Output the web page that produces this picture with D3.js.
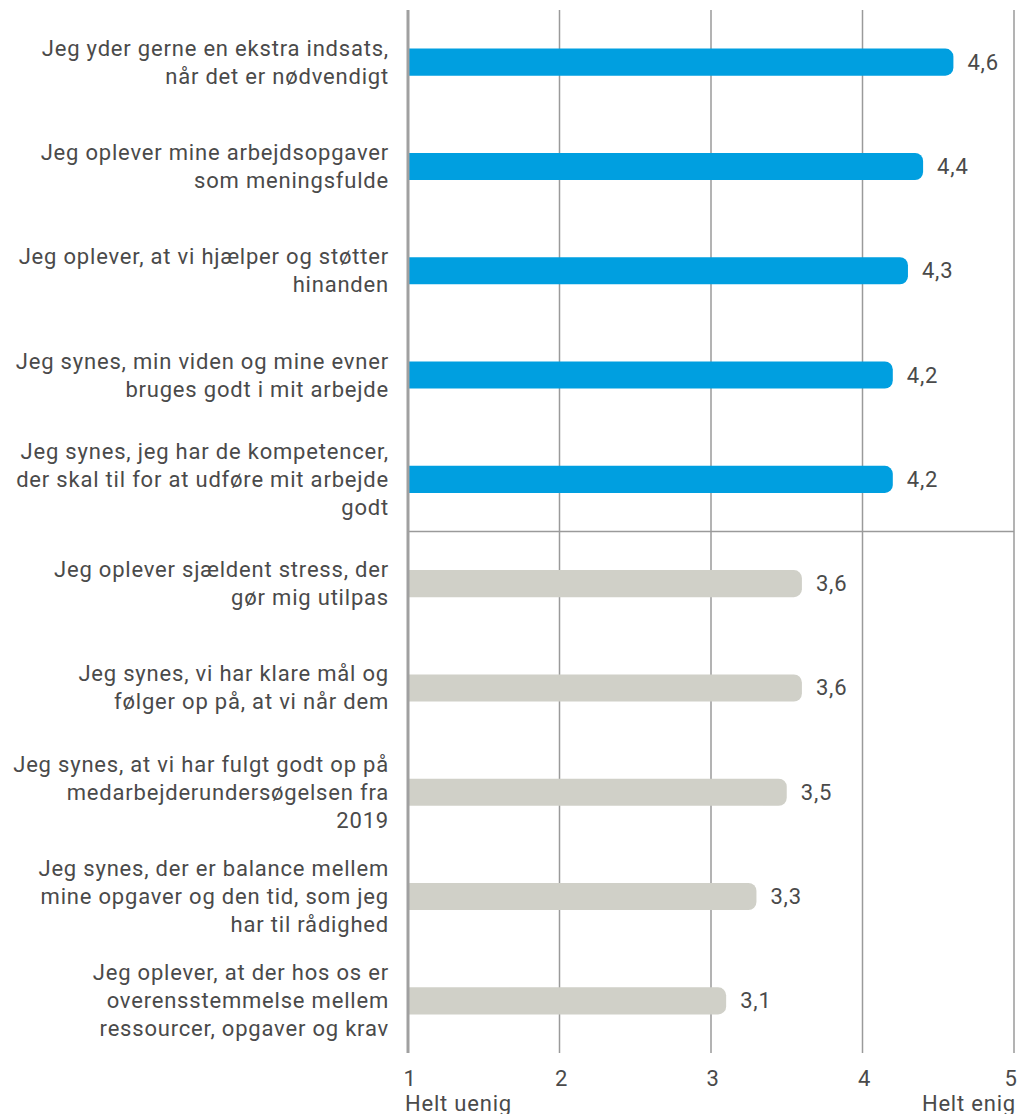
<!DOCTYPE html>
<html>
<head>
<meta charset="utf-8">
<script src="https://cdn.jsdelivr.net/npm/d3@7"></script>
<style>
  body { margin: 0; background: #fff; }
  svg { display: block; font-family: Roboto, sans-serif; }
  text { letter-spacing: 0.8px; }
</style>
</head>
<body>
<div id="chart"></div>
<script>
var labels = [
  ["Jeg yder gerne en ekstra indsats,", "når det er nødvendigt"],
  ["Jeg oplever mine arbejdsopgaver", "som meningsfulde"],
  ["Jeg oplever, at vi hjælper og støtter", "hinanden"],
  ["Jeg synes, min viden og mine evner", "bruges godt i mit arbejde"],
  ["Jeg synes, jeg har de kompetencer,", "der skal til for at udføre mit arbejde", "godt"],
  ["Jeg oplever sjældent stress, der", "gør mig utilpas"],
  ["Jeg synes, vi har klare mål og", "følger op på, at vi når dem"],
  ["Jeg synes, at vi har fulgt godt op på", "medarbejderundersøgelsen fra", "2019"],
  ["Jeg synes, der er balance mellem", "mine opgaver og den tid, som jeg", "har til rådighed"],
  ["Jeg oplever, at der hos os er", "overensstemmelse mellem", "ressourcer, opgaver og krav"]
];
var values = [4.6, 4.4, 4.3, 4.2, 4.2, 3.6, 3.6, 3.5, 3.3, 3.1];
var groups = ["top", "top", "top", "top", "top", "low", "low", "low", "low", "low"];
var ticks = [1, 2, 3, 4, 5];
var tickNotes = ["Helt uenig", "", "", "", "Helt enig"];

var width = 1020, height = 1114;
var margin = {top: 10, left: 408, right: 6, bottom: 61};
var colour = d3.scaleOrdinal().domain(["top", "low"]).range(["#009fe0", "#d0d0c8"]);
var textColour = "#4a4a4a";
var fontSize = "22px";

var svg = d3.select("#chart").append("svg")
  .attr("width", width)
  .attr("height", height);

var x = d3.scaleLinear().domain([1, 5]).range([margin.left, width - margin.right]);
var y = d3.scaleBand().domain(d3.range(values.length))
  .range([margin.top, height - margin.bottom])
  .paddingInner(0.74).paddingOuter(0.37);

// gridlines
svg.append("g").selectAll("line")
  .data(ticks.slice(1))
  .enter().append("line")
  .attr("x1", d => x(d)).attr("x2", d => x(d))
  .attr("y1", margin.top).attr("y2", height - margin.bottom)
  .attr("stroke", "#9a9a9a").attr("stroke-width", 1.5);

// separator between the two groups
var sepY = (y(4) + y.bandwidth() + y(5)) / 2;
svg.append("line")
  .attr("x1", x(1)).attr("x2", x(5))
  .attr("y1", sepY).attr("y2", sepY)
  .attr("stroke", "#9a9a9a").attr("stroke-width", 1.5);

// bars with rounded right end
var r = 8;
svg.append("g").selectAll("path")
  .data(values)
  .enter().append("path")
  .attr("d", function(d, i) {
    var x0 = x(1), x1 = x(d), y0 = y(i), h = y.bandwidth();
    return "M" + x0 + "," + y0 + "H" + (x1 - r) +
      "A" + r + "," + r + " 0 0 1 " + x1 + "," + (y0 + r) +
      "V" + (y0 + h - r) +
      "A" + r + "," + r + " 0 0 1 " + (x1 - r) + "," + (y0 + h) +
      "H" + x0 + "Z";
  })
  .attr("fill", (d, i) => colour(groups[i]));

// value labels
svg.append("g").selectAll("text")
  .data(values)
  .enter().append("text")
  .attr("x", d => x(d) + 14)
  .attr("y", (d, i) => y(i) + y.bandwidth() / 2)
  .attr("dominant-baseline", "central")
  .attr("fill", textColour)
  .style("font-size", fontSize)
  .text(d => d.toFixed(1).replace(".", ","));

// category labels
var lineH = 28;
var lab = svg.append("g").selectAll("text")
  .data(labels)
  .enter().append("text")
  .attr("text-anchor", "end")
  .attr("fill", textColour)
  .style("font-size", fontSize);
lab.selectAll("tspan")
  .data((d, i) => d.map(function(t, j) { return {t: t, j: j, n: d.length, i: i}; }))
  .enter().append("tspan")
  .attr("x", 389)
  .attr("y", d => y(d.i) + y.bandwidth() / 2 + (d.j - (d.n - 1) / 2) * lineH)
  .attr("dominant-baseline", "central")
  .text(d => d.t);

// left axis line
svg.append("line")
  .attr("x1", x(1)).attr("x2", x(1))
  .attr("y1", margin.top).attr("y2", height - margin.bottom)
  .attr("stroke", "#a0a0a0").attr("stroke-width", 3);

// tick labels
svg.append("g").selectAll("text")
  .data(ticks)
  .enter().append("text")
  .attr("x", (d, i) => i === ticks.length - 1 ? x(d) - 3 : x(d) + 2)
  .attr("y", height - margin.bottom + 25)
  .attr("text-anchor", "middle")
  .attr("dominant-baseline", "central")
  .attr("fill", textColour)
  .style("font-size", fontSize)
  .text(d => d);

svg.append("g").selectAll("text")
  .data(tickNotes)
  .enter().append("text")
  .attr("x", (d, i) => i === 0 ? x(ticks[i]) - 3 : x(ticks[i]) + 2)
  .attr("y", height - margin.bottom + 50)
  .attr("text-anchor", (d, i) => i === 0 ? "start" : "end")
  .attr("dominant-baseline", "central")
  .attr("fill", textColour)
  .style("font-size", fontSize)
  .text(d => d);
</script>
</body>
</html>
